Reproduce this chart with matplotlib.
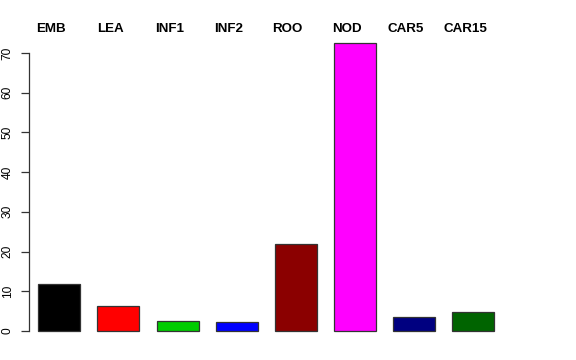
import matplotlib
matplotlib.use("Agg")
import matplotlib.pyplot as plt

tissues = ["EMB", "LEA", "INF1", "INF2", "ROO", "NOD", "CAR5", "CAR15"]
values = [11.8, 6.3, 2.5, 2.3, 21.9, 72.5, 3.5, 4.8]
colors = ["#000000", "#FF0000", "#00CD00", "#0000FF", "#8B0000", "#FF00FF", "#000080", "#006400"]
yticks = [0, 10, 20, 30, 40, 50, 60, 70]

plt.rcParams["font.family"] = ["Liberation Sans", "DejaVu Sans"]

fig = plt.figure(figsize=(5.76, 3.6), dpi=100)
ax = fig.add_axes([29 / 576, 0.0486, (503 - 29) / 576, 0.864])

x = list(range(len(tissues)))
ax.bar(x, values, width=0.71, color=colors, edgecolor="#333333", linewidth=0.9)
ax.set_xlim(-0.51, 7.5)
ax.set_ylim(-2.9, 75.4)

for s in ["top", "right", "bottom"]:
    ax.spines[s].set_visible(False)
ax.spines["left"].set_bounds(0, 70)
ax.spines["left"].set_color("#333333")
ax.spines["left"].set_linewidth(0.9)

ax.set_xticks([])
ax.set_yticks(yticks)
ax.set_yticklabels([str(t) for t in yticks], rotation=90, va="center", fontsize=8.6)
ax.tick_params(axis="y", length=6, width=0.9, color="#333333", pad=5)

# names sit a little left of the bar centres, as in the original
for xi, name in zip(x, tissues):
    ax.text(xi - 0.14, 76.0, name, ha="center", va="center",
            fontsize=9.6, fontweight="bold", clip_on=False)

fig.savefig("out.png", dpi=100)
